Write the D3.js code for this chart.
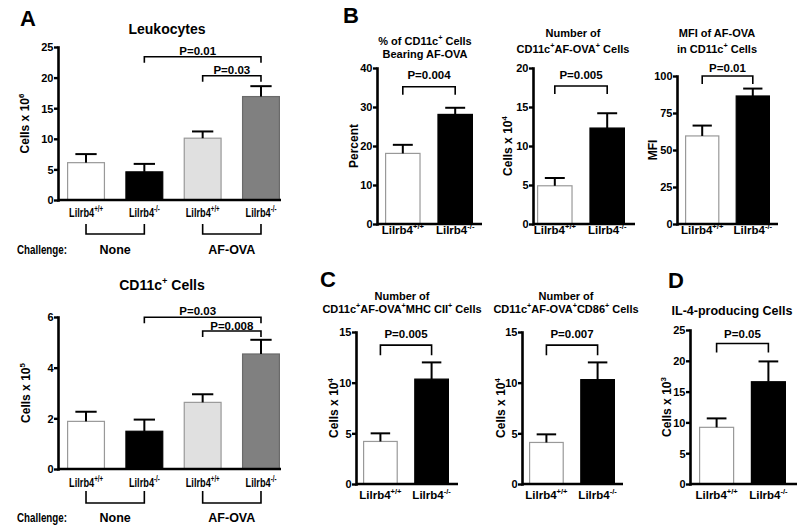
<!DOCTYPE html>
<html><head><meta charset="utf-8">
<script src="https://cdn.jsdelivr.net/npm/d3@7"></script>
<style>
body{margin:0;background:#fff}
text{font-family:"Liberation Sans",Arial,Helvetica,sans-serif;font-weight:bold;fill:#000}
</style>
</head><body><script>
// ---------------- data ----------------
const genotypeSup = ["+/+", "-/-"];               // Lilrb4 superscripts
const challengeGroups = ["None", "AF-OVA"];
const catsA = ["None +/+", "None -/-", "AF-OVA +/+", "AF-OVA -/-"];
const catsB = ["+/+", "-/-"];

const leukoMean = [6.1, 4.6, 10.1, 16.9];
const leukoSem  = [1.4, 1.3, 1.1, 1.7];
const leukoTicks = [0, 5, 10, 15, 20, 25];

const cd11cMean = [1.88, 1.49, 2.63, 4.54];
const cd11cSem  = [0.38, 0.46, 0.32, 0.56];
const cd11cTicks = [0, 2, 4, 6];

const pctMean = [18.1, 28.1];
const pctSem  = [2.2, 1.7];
const pctTicks = [0, 10, 20, 30, 40];

const numMean = [4.9, 12.3];
const numSem  = [1.0, 1.9];
const numTicks = [0, 5, 10, 15, 20];

const mfiMean = [59.5, 86.5];
const mfiSem  = [7, 5];
const mfiTicks = [0, 25, 50, 75, 100];

const mhcMean = [4.2, 10.35];
const mhcSem  = [0.8, 1.65];
const cd86Mean = [4.1, 10.3];
const cd86Sem  = [0.8, 1.7];
const cTicks = [0, 5, 10, 15];

const il4Mean = [9.2, 16.6];
const il4Sem  = [1.45, 3.3];
const il4Ticks = [0, 5, 10, 15, 20, 25];

// ---------------- drawing ----------------
const svg = d3.select("body").append("svg").attr("width", 800).attr("height", 530);

function rich(t, segs, size) {
  let shift = 0;
  segs.forEach(s => {
    const target = s.sup ? -size * 0.42 : 0;
    t.append("tspan").text(s.t)
      .attr("font-size", s.sup ? size * 0.66 : size)
      .attr("dy", target - shift);
    shift = target;
  });
  return t;
}

function panel(cfg, cats, means, sems, fills, strokes) {
  const g = svg.append("g");
  const y = d3.scaleLinear().domain([0, cfg.yMax]).range([cfg.y0, cfg.yTop]);
  const x = d3.scaleBand().domain(cats).range([cfg.bx0, cfg.bx1]).paddingInner(cfg.pad).paddingOuter(0);
  const bw = x.bandwidth();
  const cx = i => x(cats[i]) + bw / 2;

  g.selectAll("rect.bar").data(means).join("rect").attr("class", "bar")
    .attr("x", (d, i) => x(cats[i]) + 0.6).attr("width", bw - 1.2)
    .attr("y", d => y(d)).attr("height", d => cfg.y0 - y(d))
    .attr("fill", (d, i) => fills[i]).attr("stroke", (d, i) => strokes[i]).attr("stroke-width", 1.2);

  // error bars (upper only)
  const eb = g.selectAll("g.eb").data(means).join("g").attr("class", "eb");
  eb.append("line").attr("x1", (d, i) => cx(i)).attr("x2", (d, i) => cx(i))
    .attr("y1", d => y(d)).attr("y2", (d, i) => y(d + sems[i]))
    .attr("stroke", "#000").attr("stroke-width", 2);
  eb.append("line").attr("x1", (d, i) => cx(i) - bw * 0.28).attr("x2", (d, i) => cx(i) + bw * 0.28)
    .attr("y1", (d, i) => y(d + sems[i])).attr("y2", (d, i) => y(d + sems[i]))
    .attr("stroke", "#000").attr("stroke-width", 2);

  // y axis
  const ax = g.append("g").attr("transform", `translate(${cfg.ax},0)`)
    .call(d3.axisLeft(y).tickValues(cfg.ticks).tickFormat(d3.format("d"))
      .tickSize(4).tickSizeOuter(0).tickPadding(0.5));
  ax.select(".domain").attr("stroke-width", 2.6).attr("stroke-linecap", "square");
  ax.selectAll(".tick line").attr("stroke-width", 2.4);
  ax.selectAll(".tick text").attr("font-size", 11).attr("dy", "0.36em");
  // x axis line
  g.append("line").attr("x1", cfg.ax).attr("x2", cfg.xEnd).attr("y1", cfg.y0).attr("y2", cfg.y0)
    .attr("stroke", "#000").attr("stroke-width", 2.6);

  // category labels
  const cs = cfg.catScale || 1;
  const cz = cfg.catSize || 11.5;
  cats.forEach((c, i) => {
    const t = g.append("g").attr("transform", `translate(${cx(i)},${cfg.catY}) scale(${cs},1)`)
      .append("text").attr("text-anchor", "middle");
    rich(t, [{t: "Lilrb4"}, {t: genotypeSup[i % 2], sup: true}], cz);
  });

  // significance brackets
  cfg.brackets.forEach(b => {
    const yb = y(b.v);
    g.append("path")
      .attr("d", `M${cx(b.a)},${yb + cfg.depth}V${yb}H${cx(b.b)}V${yb + cfg.depth}`)
      .attr("fill", "none").attr("stroke", "#000").attr("stroke-width", 1.6);
    g.append("text").attr("x", (cx(b.a) + cx(b.b)) / 2 + (b.dx || 0)).attr("y", yb - b.gap)
      .attr("text-anchor", "middle").attr("font-size", 11.5).text(b.label);
  });

  // y label
  const yl = g.append("text")
    .attr("transform", `translate(${cfg.ylx},${(cfg.y0 + cfg.yTop) / 2}) rotate(-90)`)
    .attr("text-anchor", "middle");
  rich(yl, cfg.ylab, 12);

  // title lines
  cfg.title.forEach(l => {
    const t = g.append("text").attr("x", cfg.tx).attr("y", l.y).attr("text-anchor", "middle");
    rich(t, l.segs, cfg.tsize);
  });

  // challenge grouping (panel A only)
  if (cfg.group) {
    const gp = cfg.group;
    [[0, 1], [2, 3]].forEach((pr, k) => {
      g.append("path").attr("d", `M${cx(pr[0])},${gp.y1}V${gp.y2}H${cx(pr[1])}V${gp.y1}`)
        .attr("fill", "none").attr("stroke", "#000").attr("stroke-width", 1.6);
      g.append("text").attr("x", (cx(pr[0]) + cx(pr[1])) / 2).attr("y", gp.ty)
        .attr("text-anchor", "middle").attr("font-size", 12.5).text(challengeGroups[k]);
    });
    g.append("text").attr("x", 17).attr("y", gp.ty).attr("font-size", 13)
      .attr("textLength", 50).attr("lengthAdjust", "spacingAndGlyphs").text("Challenge:");
  }
}

const fillsA = ["#ffffff", "#000000", "#e0e0e0", "#808080"];
const strokesA = ["#999999", "#000000", "#999999", "#6a6a6a"];
const fills2 = ["#ffffff", "#000000"];
const strokes2 = ["#999999", "#000000"];

// Panel A top
panel({ax: 58, xEnd: 281, bx0: 67, bx1: 280, pad: 0.348, y0: 200, yTop: 47, yMax: 25, ticks: leukoTicks,
  catY: 217, depth: 6, catScale: 0.74, catSize: 12.5,
  brackets: [{a: 1, b: 3, v: 23.4, label: "P=0.01", gap: 2, dx: -5}, {a: 2, b: 3, v: 20.3, label: "P=0.03", gap: 2}],
  ylx: 29, ylab: [{t: "Cells x 10"}, {t: "6", sup: true}],
  tx: 167, tsize: 14, title: [{y: 34, segs: [{t: "Leukocytes"}]}],
  group: {y1: 224, y2: 234, ty: 254}}, catsA, leukoMean, leukoSem, fillsA, strokesA);

// Panel A bottom
panel({ax: 58, xEnd: 281, bx0: 67, bx1: 280, pad: 0.348, y0: 469, yTop: 317, yMax: 6, ticks: cd11cTicks,
  catY: 487, depth: 6, catScale: 0.74, catSize: 12.5,
  brackets: [{a: 1, b: 3, v: 5.99, label: "P=0.03", gap: 2, dx: -5}, {a: 2, b: 3, v: 5.45, label: "P=0.008", gap: 1}],
  ylx: 30, ylab: [{t: "Cells x 10"}, {t: "5", sup: true}],
  tx: 162, tsize: 14, title: [{y: 290, segs: [{t: "CD11c"}, {t: "+", sup: true}, {t: " Cells"}]}],
  group: {y1: 491, y2: 503, ty: 522}}, catsA, cd11cMean, cd11cSem, fillsA, strokesA);

// Panel B1
panel({ax: 377, xEnd: 482, bx0: 385, bx1: 473, pad: 0.32, y0: 224, yTop: 68, yMax: 40, ticks: pctTicks,
  catY: 234, depth: 8,
  brackets: [{a: 0, b: 1, v: 35.2, label: "P=0.004", gap: 8}],
  ylx: 358, ylab: [{t: "Percent"}],
  tx: 425, tsize: 11, title: [{y: 45, segs: [{t: "% of CD11c"}, {t: "+", sup: true}, {t: " Cells"}]},
                               {y: 58, segs: [{t: "Bearing AF-OVA"}]}]},
  catsB, pctMean, pctSem, fills2, strokes2);

// Panel B2
panel({ax: 533, xEnd: 635, bx0: 537, bx1: 625, pad: 0.32, y0: 224, yTop: 68, yMax: 20, ticks: numTicks,
  catY: 234, depth: 8,
  brackets: [{a: 0, b: 1, v: 17.7, label: "P=0.005", gap: 7}],
  ylx: 512, ylab: [{t: "Cells x 10"}, {t: "4", sup: true}],
  tx: 573, tsize: 11, title: [{y: 37, segs: [{t: "Number of"}]},
                               {y: 53, segs: [{t: "CD11c"}, {t: "+", sup: true}, {t: "AF-OVA"}, {t: "+", sup: true}, {t: " Cells"}]}]},
  catsB, numMean, numSem, fills2, strokes2);

// Panel B3
panel({ax: 677, xEnd: 778, bx0: 685, bx1: 770, pad: 0.32, y0: 224, yTop: 76, yMax: 100, ticks: mfiTicks,
  catY: 234, depth: 8,
  brackets: [{a: 0, b: 1, v: 100, label: "P=0.01", gap: 4}],
  ylx: 657, ylab: [{t: "MFI"}],
  tx: 717, tsize: 11, title: [{y: 37, segs: [{t: "MFI of AF-OVA"}]},
                               {y: 53, segs: [{t: "in CD11c"}, {t: "+", sup: true}, {t: " Cells"}]}]},
  catsB, mfiMean, mfiSem, fills2, strokes2);

// Panel C1
panel({ax: 356, xEnd: 458, bx0: 363, bx1: 449, pad: 0.32, y0: 484, yTop: 332, yMax: 15, ticks: cTicks,
  catY: 499, depth: 10,
  brackets: [{a: 0, b: 1, v: 13.7, label: "P=0.005", gap: 7}],
  ylx: 338, ylab: [{t: "Cells x 10"}, {t: "4", sup: true}],
  tx: 402, tsize: 11, title: [{y: 300, segs: [{t: "Number of"}]},
                               {y: 313, segs: [{t: "CD11c"}, {t: "+", sup: true}, {t: "AF-OVA"}, {t: "+", sup: true}, {t: "MHC CII"}, {t: "+", sup: true}, {t: " Cells"}]}]},
  catsB, mhcMean, mhcSem, fills2, strokes2);

// Panel C2
panel({ax: 522, xEnd: 623, bx0: 529, bx1: 615, pad: 0.32, y0: 484, yTop: 332, yMax: 15, ticks: cTicks,
  catY: 499, depth: 10,
  brackets: [{a: 0, b: 1, v: 13.7, label: "P=0.007", gap: 7}],
  ylx: 505, ylab: [{t: "Cells x 10"}, {t: "4", sup: true}],
  tx: 566, tsize: 11, title: [{y: 300, segs: [{t: "Number of"}]},
                               {y: 313, segs: [{t: "CD11c"}, {t: "+", sup: true}, {t: "AF-OVA"}, {t: "+", sup: true}, {t: "CD86"}, {t: "+", sup: true}, {t: " Cells"}]}]},
  catsB, cd86Mean, cd86Sem, fills2, strokes2);

// Panel D
panel({ax: 690, xEnd: 797, bx0: 699, bx1: 786, pad: 0.32, y0: 484, yTop: 330, yMax: 25, ticks: il4Ticks,
  catY: 499, depth: 9,
  brackets: [{a: 0, b: 1, v: 22.8, label: "P=0.05", gap: 6}],
  ylx: 671, ylab: [{t: "Cells x 10"}, {t: "3", sup: true}],
  tx: 732, tsize: 12.5, title: [{y: 315, segs: [{t: "IL-4-producing Cells"}]}]},
  catsB, il4Mean, il4Sem, fills2, strokes2);

// panel letters
[["A", 20, 26], ["B", 343, 23], ["C", 320, 287], ["D", 668, 288]].forEach(l => {
  svg.append("text").attr("x", l[1]).attr("y", l[2]).attr("font-size", 22).text(l[0]);
});
</script></body></html>
